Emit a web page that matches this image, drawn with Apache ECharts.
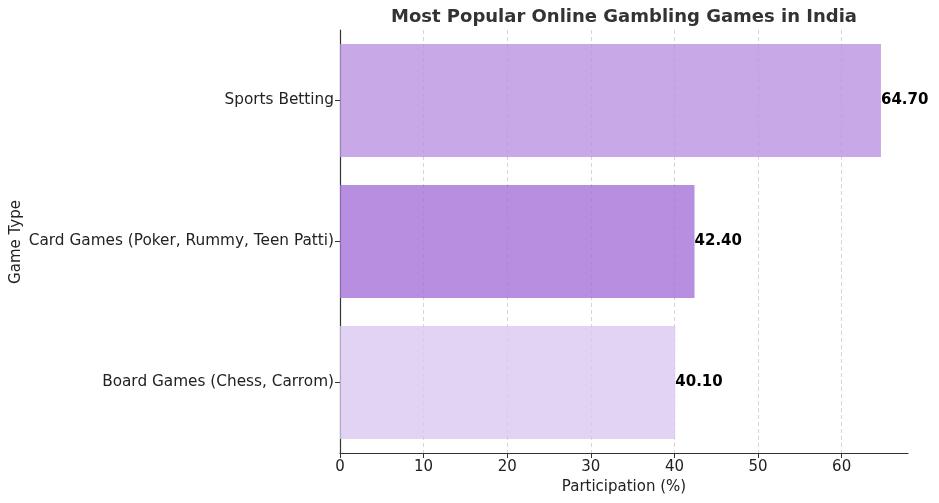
<!DOCTYPE html>
<html><head><meta charset="utf-8">
<script src="https://cdn.jsdelivr.net/npm/echarts@6/dist/echarts.min.js"></script>
<style>html,body{margin:0;padding:0;background:#fff}#c{width:939px;height:503px}</style>
</head><body><div id="c"></div>
<script>
const categories = ['Sports Betting', 'Card Games (Poker, Rummy, Teen Patti)', 'Board Games (Chess, Carrom)'];
const values = [64.7, 42.4, 40.1];
const barColors = ['rgba(186,146,224,0.8)', 'rgba(166,114,216,0.8)', 'rgba(219,200,241,0.8)'];
const xTicks = [0, 10, 20, 30, 40, 50, 60];
const titleText = 'Most Popular Online Gambling Games in India';
const yAxisName = 'Game Type';

const font = 'DejaVu Sans';
const chart = echarts.init(document.getElementById('c'));
chart.setOption({
  animation: false,
  graphic: [{
    type: 'text', x: 624, y: 17,
    style: { text: titleText, textAlign: 'center', textVerticalAlign: 'middle',
      fontFamily: font, fontSize: 18, fontWeight: 'bold', fill: '#333' }
  }, {
    type: 'text', x: 16, y: 242, rotation: Math.PI / 2,
    style: { text: yAxisName, textAlign: 'center', textVerticalAlign: 'middle',
      fontFamily: font, fontSize: 15, fill: '#222' }
  }],
  grid: { left: 340, right: 31, top: 30, bottom: 50, containLabel: false, outerBoundsMode: 'none' },
  xAxis: {
    type: 'value', min: 0, max: 67.935,
    name: 'Participation (%)', nameLocation: 'middle', nameGap: 27,
    nameTextStyle: { fontFamily: font, fontSize: 15, color: '#222' },
    axisLine: { show: true, lineStyle: { color: '#333', width: 1.2 } },
    axisTick: { show: true, length: 5, lineStyle: { color: '#333' }, customValues: xTicks },
    axisLabel: { fontFamily: font, fontSize: 15, color: '#222', margin: 7, customValues: xTicks },
    splitLine: { show: true, lineStyle: { color: '#ccc', type: [4, 3], width: 0.8 } }
  },
  yAxis: {
    type: 'category', data: categories, inverse: true,
    axisLine: { show: true, lineStyle: { color: '#333', width: 1.2 } },
    axisTick: { show: true, alignWithLabel: true, length: 5, lineStyle: { color: '#333' } },
    axisLabel: { fontFamily: font, fontSize: 15.3, color: '#222', margin: 6 },
    splitLine: { show: false }
  },
  series: [{
    type: 'bar',
    barCategoryGap: '20%',
    data: values.map((v, i) => ({ value: v, itemStyle: { color: barColors[i] } })),
    label: {
      show: true, position: 'right', distance: 0,
      formatter: p => p.value.toFixed(2),
      fontFamily: font, fontSize: 15, fontWeight: 'bold', color: '#000'
    }
  }]
});
</script></body></html>
